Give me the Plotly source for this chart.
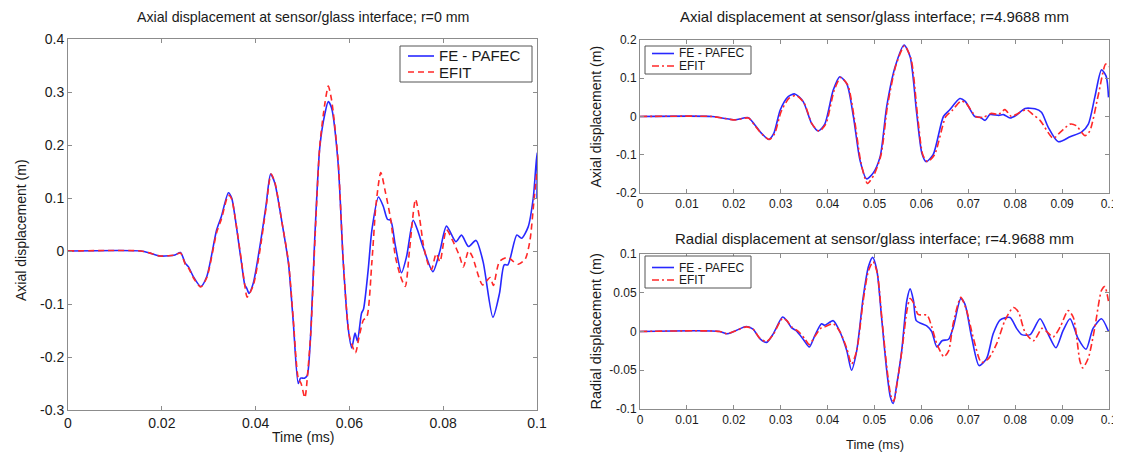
import plotly.graph_objects as go

W, H = 1121, 453
OFF = 8            # page body margin of the html page
FW, FH = W - OFF, H - OFF

# ---------------- Data ----------------
# Left: Axial displacement, r = 0 mm
t_ax0_fe = [0, 0.0155, 0.0175, 0.0196, 0.0215, 0.0228, 0.024, 0.025, 0.0257, 0.0267, 0.0283, 0.0296,
            0.0317, 0.0327, 0.0342, 0.0349, 0.0356, 0.037, 0.0377, 0.0381, 0.0386, 0.0395, 0.0409, 0.0422,
            0.0432, 0.0441, 0.0456, 0.047, 0.048, 0.0491, 0.0496, 0.0504, 0.051, 0.0516, 0.0527, 0.0537,
            0.0548, 0.0555, 0.0562, 0.0576, 0.0587, 0.0598, 0.0605, 0.0612, 0.0617, 0.0626, 0.063, 0.064,
            0.0648, 0.0662, 0.0672, 0.0681, 0.0688, 0.0698, 0.0711, 0.0722, 0.0736, 0.0745, 0.0758, 0.0778,
            0.0793, 0.0807, 0.0827, 0.0839, 0.0854, 0.087, 0.0885, 0.0906, 0.092, 0.093, 0.0938, 0.0957,
            0.0967, 0.0981, 0.0992, 0.1, 0.1]
v_ax0_fe = [0, 0, -0.004, -0.0094, -0.009, -0.0075, -0.003, -0.023, -0.03, -0.048, -0.067, -0.048,
            0.04, 0.065, 0.11, 0.10, 0.065, -0.023, -0.064, -0.07, -0.08, -0.061, 0.008, 0.084,
            0.145, 0.128, 0.055, -0.023, -0.13, -0.25, -0.24, -0.24, -0.235, -0.18, 0.04, 0.197,
            0.26, 0.282, 0.27, 0.165, -0.023, -0.15, -0.183, -0.155, -0.17, -0.117, -0.11, -0.036,
            0.04, 0.102, 0.085, 0.06, 0.058, 0.01, -0.041, -0.01, 0.058, 0.04, 0.005, -0.039,
            0.0, 0.047, 0.0175, 0.03, 0.0085, 0.02, -0.02, -0.125, -0.08, -0.026, -0.026, 0.03,
            0.024, 0.045, 0.10, 0.185, 0.098]

t_ax0_efit = [0, 0.0155, 0.0175, 0.0196, 0.0215, 0.0228, 0.024, 0.025, 0.0257, 0.0267, 0.0283, 0.0296,
              0.0317, 0.0327, 0.0342, 0.0349, 0.0356, 0.037, 0.0377, 0.0382, 0.0395, 0.0409, 0.0422,
              0.0433, 0.0441, 0.0456, 0.047, 0.048, 0.0491, 0.0497, 0.0505, 0.0512, 0.0518, 0.0527,
              0.0537, 0.0548, 0.0555, 0.0562, 0.0576, 0.0587, 0.06, 0.0613, 0.062, 0.063, 0.0637,
              0.0648, 0.0657, 0.0667, 0.0677, 0.0688, 0.0698, 0.0708, 0.0719, 0.0728, 0.0741, 0.075,
              0.0758, 0.0768, 0.0775, 0.0785, 0.0793, 0.0807, 0.082, 0.0835, 0.0843, 0.0854, 0.0862,
              0.0884, 0.09, 0.0907, 0.092, 0.0938, 0.095, 0.096, 0.0975, 0.0985, 0.0993, 0.1]
v_ax0_efit = [0, 0, -0.004, -0.0094, -0.009, -0.0075, -0.004, -0.025, -0.032, -0.05, -0.068, -0.05,
              0.035, 0.06, 0.105, 0.098, 0.065, -0.02, -0.065, -0.087, -0.065, 0.0, 0.08,
              0.145, 0.13, 0.055, -0.02, -0.125, -0.24, -0.25, -0.277, -0.22, -0.15, 0.03,
              0.2, 0.28, 0.311, 0.285, 0.17, -0.02, -0.16, -0.192, -0.165, -0.13, -0.125,
              -0.02, 0.09, 0.148, 0.11, 0.06, -0.01, -0.045, -0.067, 0.0, 0.0975, 0.06,
              0.01, -0.025, -0.035, -0.005, -0.02, 0.04, 0.02, -0.01, -0.03, 0.0, -0.01,
              -0.064, -0.05, -0.065, -0.02, -0.012, -0.02, -0.025, -0.015, 0.02, 0.09, 0.15]

# Top right: Axial displacement, r = 4.9688 mm
t_ax5_fe = [0, 0.0153, 0.0175, 0.0203, 0.0231, 0.0245, 0.026, 0.0274, 0.0285, 0.0299, 0.0316, 0.033,
            0.0348, 0.0366, 0.038, 0.0394, 0.0412, 0.0426, 0.0441, 0.0455, 0.0469, 0.0483, 0.0497,
            0.0512, 0.0526, 0.0544, 0.0563, 0.0576, 0.059, 0.0601, 0.061, 0.0625, 0.0647, 0.066,
            0.0682, 0.0693, 0.0714, 0.0725, 0.0736, 0.0746, 0.0765, 0.0775, 0.0789, 0.0803, 0.0821,
            0.0842, 0.0856, 0.087, 0.0892, 0.0917, 0.0942, 0.0956, 0.097, 0.0984, 0.0994, 0.0999]
v_ax5_fe = [0, 0, -0.004, -0.0085, -0.003, -0.022, -0.045, -0.06, -0.045, 0.017, 0.052, 0.059,
            0.039, -0.018, -0.038, -0.02, 0.069, 0.104, 0.085, 0.0, -0.114, -0.163, -0.148,
            -0.105, 0.026, 0.13, 0.187, 0.156, 0.008, -0.096, -0.118, -0.1, 0.0, 0.017,
            0.047, 0.04, 0.0, -0.002, -0.01, 0.005, 0.003, 0.005, -0.004, 0.004, 0.021,
            0.02, 0.011, -0.027, -0.066, -0.053, -0.04, -0.02, 0.052, 0.122, 0.105, 0.05]

t_ax5_efit = [0, 0.0153, 0.0175, 0.0203, 0.0231, 0.0245, 0.026, 0.0276, 0.0287, 0.0301, 0.0318, 0.0333,
              0.035, 0.0367, 0.0382, 0.0396, 0.0414, 0.0428, 0.0443, 0.0457, 0.0471, 0.0485, 0.0499,
              0.0514, 0.0528, 0.0546, 0.0564, 0.0578, 0.0592, 0.0603, 0.0613, 0.0628, 0.0652, 0.0665,
              0.0684, 0.0695, 0.0716, 0.0732, 0.0748, 0.0765, 0.0778, 0.0792, 0.0806, 0.0824, 0.0838,
              0.0853, 0.0881, 0.0897, 0.0917, 0.093, 0.0949, 0.0959, 0.0977, 0.0993, 0.1]
v_ax5_efit = [0, 0, -0.004, -0.009, -0.004, -0.024, -0.046, -0.06, -0.045, 0.013, 0.048, 0.055,
              0.035, -0.02, -0.038, -0.02, 0.068, 0.102, 0.082, -0.005, -0.12, -0.175, -0.152,
              -0.1, 0.03, 0.135, 0.185, 0.15, 0.0, -0.1, -0.118, -0.1, 0.0, 0.015,
              0.04, 0.035, 0.0, -0.002, 0.008, 0.006, 0.018, 0.0, 0.008, 0.018, 0.005,
              -0.01, -0.057, -0.04, -0.02, -0.024, -0.05, -0.038, 0.055, 0.137, 0.13]

# Bottom right: Radial displacement, r = 4.9688 mm
t_rad_fe = [0, 0.017, 0.0185, 0.02, 0.0227, 0.0241, 0.0256, 0.027, 0.0284, 0.0304, 0.0313, 0.0323,
            0.0333, 0.0348, 0.0361, 0.0373, 0.0387, 0.0394, 0.0412, 0.0426, 0.0441, 0.0451, 0.0462,
            0.0476, 0.0487, 0.0496, 0.0505, 0.0515, 0.0526, 0.0534, 0.054, 0.0547, 0.0558, 0.0569,
            0.0576, 0.0583, 0.0589, 0.0601, 0.0612, 0.0622, 0.0633, 0.0644, 0.0658, 0.0668, 0.0684,
            0.0693, 0.0707, 0.0723, 0.0739, 0.0753, 0.0768, 0.0789, 0.0803, 0.0814, 0.0832, 0.0853,
            0.087, 0.0887, 0.0902, 0.0917, 0.0934, 0.0951, 0.0966, 0.0984, 0.0999]
v_rad_fe = [0, 0, -0.003, 0.0, 0.0065, 0.003, -0.0095, -0.014, -0.003, 0.0186, 0.014, 0.005,
            0.001, -0.01, -0.02, -0.005, 0.01, 0.008, 0.014, 0.0, -0.025, -0.05, -0.025,
            0.0446, 0.0835, 0.0957, 0.079, 0.0186, -0.05, -0.085, -0.093, -0.07, -0.025, 0.04,
            0.055, 0.04, 0.014, 0.01, 0.007, 0.0, -0.02, -0.012, -0.01, 0.0056, 0.0425,
            0.035, -0.007, -0.044, -0.035, -0.003, 0.015, 0.018, 0.004, -0.004, -0.004, 0.0165,
            -0.003, -0.021, 0.001, 0.0165, -0.009, -0.023, 0.004, 0.0165, 0.0]

t_rad_efit = [0, 0.017, 0.0185, 0.02, 0.0227, 0.0241, 0.0256, 0.027, 0.0284, 0.0304, 0.0313, 0.0323,
              0.0338, 0.0352, 0.0361, 0.0373, 0.0387, 0.0394, 0.0412, 0.0426, 0.0441, 0.0451, 0.0462,
              0.0476, 0.0487, 0.0497, 0.0506, 0.0516, 0.0527, 0.0535, 0.0541, 0.0548, 0.0559, 0.057,
              0.0576, 0.0585, 0.0593, 0.0612, 0.0622, 0.0633, 0.0648, 0.0658, 0.0668, 0.0684, 0.0696,
              0.0711, 0.0728, 0.0743, 0.0761, 0.0778, 0.0796, 0.0807, 0.0821, 0.0839, 0.0857, 0.0867,
              0.0881, 0.0896, 0.0913, 0.0924, 0.0938, 0.0944, 0.0956, 0.097, 0.0984, 0.0991, 0.1]
v_rad_efit = [0, 0, -0.003, 0.0, 0.006, 0.003, -0.009, -0.013, -0.004, 0.017, 0.014, 0.006,
              0.0, -0.01, -0.017, -0.006, 0.005, 0.006, 0.01, 0.0, -0.022, -0.042, -0.025,
              0.04, 0.078, 0.09, 0.075, 0.015, -0.05, -0.083, -0.09, -0.068, -0.022, 0.03,
              0.0425, 0.035, 0.022, 0.021, 0.006, -0.016, -0.0325, -0.025, 0.011, 0.044, 0.028,
              -0.009, -0.04, -0.035, -0.015, 0.014, 0.031, 0.025, -0.001, -0.012, 0.004, 0.0,
              -0.007, 0.006, 0.027, 0.018, -0.038, -0.047, -0.034, 0.006, 0.053, 0.058, 0.035]

# Tick values / labels
x_ticks_left = [0, 0.02, 0.04, 0.06, 0.08, 0.1]
x_labels_left = ["0", "0.02", "0.04", "0.06", "0.08", "0.1"]
y_ticks_left = [-0.3, -0.2, -0.1, 0, 0.1, 0.2, 0.3, 0.4]
y_labels_left = ["-0.3", "-0.2", "-0.1", "0", "0.1", "0.2", "0.3", "0.4"]
x_ticks_right = [0, 0.01, 0.02, 0.03, 0.04, 0.05, 0.06, 0.07, 0.08, 0.09, 0.1]
x_labels_right = ["0", "0.01", "0.02", "0.03", "0.04", "0.05", "0.06", "0.07", "0.08", "0.09", "0.1"]
y_ticks_top = [-0.2, -0.1, 0, 0.1, 0.2]
y_labels_top = ["-0.2", "-0.1", "0", "0.1", "0.2"]
y_ticks_bot = [-0.1, -0.05, 0, 0.05, 0.1]
y_labels_bot = ["-0.1", "-0.05", "0", "0.05", "0.1"]

series_names = ["FE - PAFEC", "EFIT"]

# ---------------- Styling ----------------
FONT = "Liberation Sans, Arial, sans-serif"
BLUE = "rgb(40,40,255)"
RED = "rgb(255,40,40)"
FRAME = "#8c8c8c"
TXT = "#1a1a1a"
DASH_LEFT = "6px,4px"
DASH_RIGHT = "7px,3px,2px,3px"


def px_x(p):
    return (p - OFF) / FW


def px_y(p):
    return 1 - (p - OFF) / FH


fig = go.Figure()

panels = [
    ("x", "y", t_ax0_fe, v_ax0_fe, t_ax0_efit, v_ax0_efit, DASH_LEFT),
    ("x2", "y2", t_ax5_fe, v_ax5_fe, t_ax5_efit, v_ax5_efit, DASH_RIGHT),
    ("x3", "y3", t_rad_fe, v_rad_fe, t_rad_efit, v_rad_efit, DASH_RIGHT),
]
for xa, ya, tf, vf, te, ve, dash in panels:
    fig.add_trace(go.Scatter(x=tf, y=vf, xaxis=xa, yaxis=ya, mode="lines", name=series_names[0],
                             showlegend=False,
                             line=dict(color=BLUE, width=1.6, shape="spline", smoothing=0.7)))
    fig.add_trace(go.Scatter(x=te, y=ve, xaxis=xa, yaxis=ya, mode="lines", name=series_names[1],
                             showlegend=False,
                             line=dict(color=RED, width=1.6, dash=dash, shape="spline", smoothing=0.7)))


def axis_common(size):
    return dict(showline=True, linecolor=FRAME, linewidth=1, mirror="ticks", ticks="inside",
                ticklen=4, tickcolor=FRAME, showgrid=False, zeroline=False, automargin=False,
                tickfont=dict(family=FONT, size=size, color=TXT))


# domains (paper fractions, margins are zero)
L_X = [px_x(68), px_x(537)]
L_Y = [px_y(410), px_y(39)]
R_X = [px_x(640), px_x(1109)]
RT_Y = [px_y(193), px_y(40)]
RB_Y = [px_y(409), px_y(254)]

fig.update_layout(
    width=FW, height=FH, margin=dict(l=0, r=0, t=0, b=0, pad=0, autoexpand=False),
    paper_bgcolor="white", plot_bgcolor="white", showlegend=False,
    font=dict(family=FONT, color=TXT),
    xaxis=dict(domain=L_X, anchor="y", range=[0, 0.1], tickvals=x_ticks_left, ticktext=x_labels_left,
               **axis_common(14)),
    yaxis=dict(domain=L_Y, anchor="x", range=[-0.3, 0.4], tickvals=y_ticks_left, ticktext=y_labels_left,
               **axis_common(14)),
    xaxis2=dict(domain=R_X, anchor="y2", range=[0, 0.1], tickvals=x_ticks_right, ticktext=x_labels_right,
                **axis_common(12)),
    yaxis2=dict(domain=RT_Y, anchor="x2", range=[-0.2, 0.2], tickvals=y_ticks_top, ticktext=y_labels_top,
                **axis_common(12)),
    xaxis3=dict(domain=R_X, anchor="y3", range=[0, 0.1], tickvals=x_ticks_right, ticktext=x_labels_right,
                **axis_common(12)),
    yaxis3=dict(domain=RB_Y, anchor="x3", range=[-0.1, 0.1], tickvals=y_ticks_bot, ticktext=y_labels_bot,
                **axis_common(12)),
)

annots = [
    # titles
    ("Axial displacement at sensor/glass interface; r=0 mm", 302.5, 17, 14.2, 0),
    ("Axial displacement at sensor/glass interface; r=4.9688 mm", 874.5, 17, 15, 0),
    ("Radial displacement at sensor/glass interface; r=4.9688 mm", 874.5, 238, 15, 0),
    # axis titles
    ("Time (ms)", 302.5, 437, 14, 0),
    ("Axial displacement (m)", 21, 230, 14, -90),
    ("Axial displacement (m)", 595, 116.5, 14, -90),
    ("Radial displacement (m)", 595, 331.5, 14.5, -90),
    ("Time (ms)", 874.5, 444, 13, 0),
]
for text, x, y, size, ang in annots:
    fig.add_annotation(text=text, xref="paper", yref="paper", x=px_x(x), y=px_y(y),
                       xanchor="center", yanchor="middle", showarrow=False, textangle=ang,
                       font=dict(family=FONT, size=size, color=TXT))


# ---------------- Legends (box, line samples, labels) ----------------
def add_legend(box, line_x, text_x, rows, size, dash):
    x0, y0, x1, y1 = box
    fig.add_shape(type="rect", xref="paper", yref="paper", x0=px_x(x0), x1=px_x(x1),
                  y0=px_y(y1), y1=px_y(y0), line=dict(color="#555", width=1), fillcolor="white",
                  layer="above")
    styles = [dict(color=BLUE, width=1.6), dict(color=RED, width=1.6, dash=dash)]
    for name, yy, st in zip(series_names, rows, styles):
        fig.add_shape(type="line", xref="paper", yref="paper", x0=px_x(line_x[0]), x1=px_x(line_x[1]),
                      y0=px_y(yy), y1=px_y(yy), line=st, layer="above")
        fig.add_annotation(text=name, xref="paper", yref="paper", x=px_x(text_x), y=px_y(yy),
                           xanchor="left", yanchor="middle", showarrow=False,
                           font=dict(family=FONT, size=size, color=TXT))


add_legend((400, 46, 532, 82), (408, 434), 437, (56, 72), 15, DASH_LEFT)
add_legend((645, 46, 751, 74), (652, 674), 677, (53.5, 66), 12, DASH_RIGHT)
add_legend((645, 256, 751, 288), (652, 674), 677, (267.5, 280), 12, DASH_RIGHT)

fig.write_html("out.html")
